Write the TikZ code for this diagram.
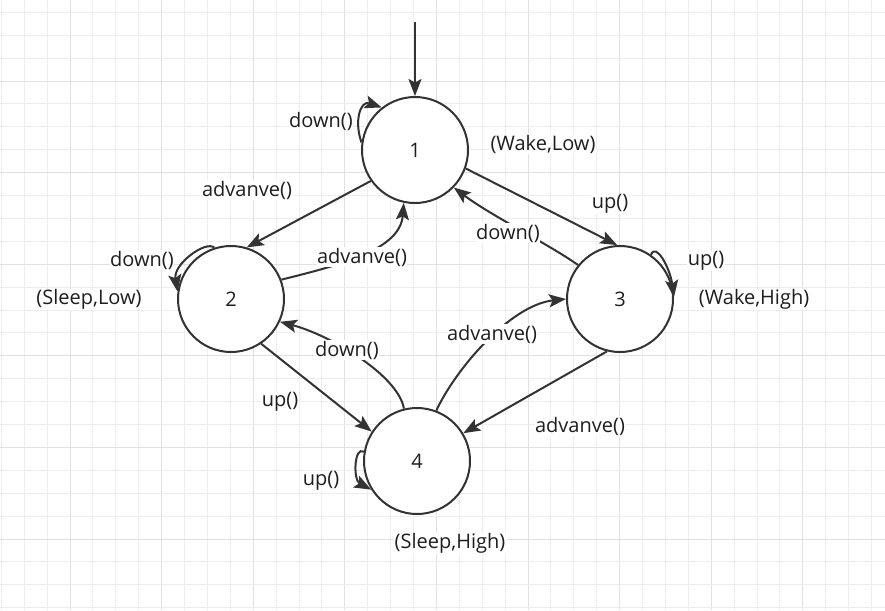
\documentclass[tikz,border=0pt]{standalone}
\usepackage{fontspec}
\setmainfont{Open Sans}
\usetikzlibrary{arrows.meta}
\definecolor{linec}{HTML}{333333}
\definecolor{textc}{HTML}{1E1E1E}
\definecolor{gridminor}{HTML}{EDEDED}
\definecolor{gridmajor}{HTML}{E1E1E1}
\begin{document}
\begin{tikzpicture}[x=1pt,y=-1pt,
  state/.style={circle, draw=linec, line width=2pt, fill=white, minimum size=106pt,
    inner sep=0pt, text=textc, font=\fontsize{20}{23}\selectfont},
  lbl/.style={fill=white, inner sep=0.5pt, text=textc, font=\fontsize{20}{23}\selectfont},
  edge/.style={draw=linec, line width=2pt, -{Stealth[length=17pt,width=13pt,inset=3.5pt]}},
]
\useasboundingbox (0,0) rectangle (885,610);
\fill[white] (0,0) rectangle (885,610);

% background grid
\foreach \i in {-3,...,36} {
  \pgfmathsetmacro{\gx}{70+22.9*\i}
  \pgfmathtruncatemacro{\m}{mod(\i+40,4)}
  \ifnum\m=0
    \draw[gridmajor, line width=1pt] (\gx,0) -- (\gx,610);
  \else
    \draw[gridminor, line width=1pt] (\gx,0) -- (\gx,610);
  \fi
}
\foreach \j in {-3,...,24} {
  \pgfmathsetmacro{\gy}{81+22.9*\j}
  \pgfmathtruncatemacro{\m}{mod(\j+40,4)}
  \ifnum\m=0
    \draw[gridmajor, line width=1pt] (0,\gy) -- (885,\gy);
  \else
    \draw[gridminor, line width=1pt] (0,\gy) -- (885,\gy);
  \fi
}

% states
\node[state] (s1) at (415,150) {1};
\node[state] (s2) at (231,299) {2};
\node[state] (s3) at (620,299) {3};
\node[state] (s4) at (417,461) {4};

% initial arrow
\coordinate (init) at (415,22);
\draw[edge] (init) -- (s1.north);

% straight transitions
\draw[edge] (s1.215) -- (s2.73);
\draw[edge] (s1.340) -- (s3.93);
\draw[edge] (s2.304) -- (s4.147);
\draw[edge] (s3.256) -- (s4.31);

% curved transitions
\draw[edge] (s2.21) .. controls (340,265) and (400,250) .. (s1.258);
\draw[edge] (s3.141) .. controls (550,245) and (490,215) .. (s1.316);
\draw[edge] (s4.104) .. controls (398,375) and (330,335) .. (s2.335);
\draw[edge] (s4.69) .. controls (455,370) and (510,305) .. (s3.180);

% self loops
\draw[edge] (s1.172) .. controls (354,122) and (360,100) .. (s1.128);
\draw[edge] (s2.108) .. controls (206,240) and (173,264) .. (s2.172);
\draw[edge] (s3.55) .. controls (656,242) and (670,268) .. (s3.2);
\draw[edge] (s4.170) .. controls (354,446) and (353,480) .. (s4.212);

% transition labels
\node[lbl] (l1) at (321,121) {down()};
\node[lbl] (l2) at (247,190) {advanve()};
\node[lbl] (l3) at (610,204) {up()};
\node[lbl] (l4) at (508,233) {down()};
\node[lbl] (l5) at (362,257) {advanve()};
\node[lbl] (l6) at (142,260) {down()};
\node[lbl] (l7) at (706,261) {up()};
\node[lbl] (l8) at (492,334) {advanve()};
\node[lbl] (l9) at (347,350) {down()};
\node[lbl] (l10) at (280,402) {up()};
\node[lbl] (l11) at (580,426) {advanve()};
\node[lbl] (l12) at (321,481) {up()};

% state outputs
\node[lbl] (o1) at (543,144) {(Wake,Low)};
\node[lbl] (o2) at (89,299) {(Sleep,Low)};
\node[lbl] (o3) at (754,299) {(Wake,High)};
\node[lbl] (o4) at (450,543) {(Sleep,High)};
\end{tikzpicture}
\end{document}
